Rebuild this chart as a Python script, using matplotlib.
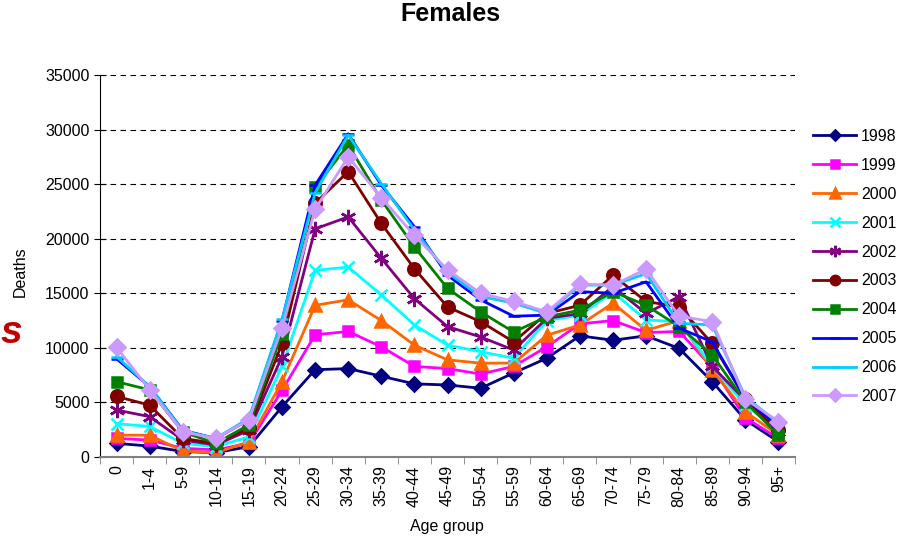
import matplotlib.pyplot as plt
from matplotlib.ticker import MultipleLocator, FixedLocator

plt.rcParams['font.family'] = ['Liberation Sans', 'DejaVu Sans']

# Age groups on the x axis
ages = ["0", "1-4", "5-9", "10-14", "15-19", "20-24", "25-29", "30-34", "35-39",
        "40-44", "45-49", "50-54", "55-59", "60-64", "65-69", "70-74", "75-79",
        "80-84", "85-89", "90-94", "95+"]

# Female deaths per year
d1998 = [1250, 1000, 500, 400, 950, 4600, 8000, 8100, 7400, 6700, 6600, 6300, 7700,
         9050, 11100, 10700, 11100, 9950, 6900, 3400, 1400]
d1999 = [1700, 1550, 800, 650, 1250, 6100, 11200, 11500, 10100, 8300, 8100, 7600, 8300,
         10100, 12200, 12500, 11400, 11500, 8200, 3600, 1700]
d2000 = [2000, 2000, 550, 380, 1400, 6900, 13900, 14400, 12500, 10250, 8900, 8600, 8600,
         11150, 12100, 14100, 11600, 12500, 7950, 4150, 2000]
d2001 = [3050, 2800, 1250, 950, 1850, 8300, 17100, 17400, 14850, 12100, 10250, 9650, 9050,
         12500, 13000, 15100, 12550, 12400, 8300, 4750, 2450]
d2002 = [4300, 3700, 1550, 1100, 2450, 9200, 20900, 22000, 18200, 14500, 11950, 11000, 9800,
         12700, 13150, 15600, 13150, 14700, 8300, 5200, 2300]
d2003 = [5550, 4750, 1700, 1250, 2650, 10400, 23250, 26150, 21400, 17250, 13750, 12400, 10550,
         13150, 13900, 16650, 14250, 13750, 10400, 5350, 2450]
d2004 = [6900, 6150, 2300, 1250, 2950, 11300, 24700, 28600, 23550, 19250, 15450, 13300, 11450,
         12850, 13450, 15150, 13900, 11950, 9350, 5050, 2000]
d2005 = [9000, 6450, 2450, 1700, 3400, 12500, 24900, 29600, 24900, 21100, 16650, 14400, 12900,
         13000, 15150, 15000, 16050, 11800, 10550, 5350, 2800]
d2006 = [9200, 6450, 2400, 1700, 3550, 12600, 24200, 29500, 25050, 20800, 16900, 14700, 14100,
         13150, 15750, 15750, 16800, 12250, 12100, 5500, 3100]
d2007 = [10050, 6150, 2300, 1700, 3400, 11850, 22700, 27500, 23750, 20300, 17150, 15000, 14250,
         13300, 15850, 15750, 17200, 12900, 12400, 5300, 3250]

years = ["1998", "1999", "2000", "2001", "2002", "2003", "2004", "2005", "2006", "2007"]
series = [d1998, d1999, d2000, d2001, d2002, d2003, d2004, d2005, d2006, d2007]

colors = ["#000080", "#FF00FF", "#FF6600", "#00FFFF", "#800080",
          "#800000", "#008000", "#0000FF", "#00CCFF", "#CC99FF"]
markers = ["D", "s", "^", "x", (6, 2, 0), "o", "s", "_", "_", "D"]
msizes = [7, 7, 9, 9, 11, 9, 7, 9, 9, 8]

fig = plt.figure(figsize=(9.01, 5.40), dpi=100)
ax = fig.add_axes([100 / 901, 1 - 457 / 540, 695 / 901, 382 / 540])

x = list(range(len(ages)))
for yr, vals, c, m, ms in zip(years, series, colors, markers, msizes):
    ax.plot(x, vals, color=c, lw=2, marker=m, markersize=ms,
            markerfacecolor=c, markeredgecolor=c, markeredgewidth=1.8, label=yr)

ax.set_xlim(-0.5, len(ages) - 0.5)
ax.set_ylim(0, 35000)
ax.yaxis.set_major_locator(MultipleLocator(5000))
ax.grid(axis="y", color="black", linestyle=(0, (5, 4)), lw=0.8)
ax.set_axisbelow(True)

ax.set_xticks(x)
ax.set_xticklabels(ages, rotation=90, fontsize=11.5)
ax.xaxis.set_minor_locator(FixedLocator([i - 0.5 for i in range(len(ages) + 1)]))
ax.tick_params(axis="x", which="major", length=0, pad=6)
ax.tick_params(axis="x", which="minor", length=5, color="#808080", direction="out")
ax.tick_params(axis="y", labelsize=11.5, direction="inout", length=8)

for s in ["top", "right"]:
    ax.spines[s].set_visible(False)
ax.spines["bottom"].set_color("#808080")
ax.spines["bottom"].set_linewidth(1.5)

fig.text(0.5, 1 - 21 / 540, "Females", ha="center", va="baseline",
         fontsize=18, weight="bold", family=["Liberation Sans Narrow", "Liberation Sans"])
fig.text(20 / 901, 1 - 272 / 540, "Deaths", rotation=90, ha="center", va="center", fontsize=11.5)
fig.text(447 / 901, 1 - 527 / 540, "Age group", ha="center", va="center", fontsize=11.5)
fig.text(1 / 901, 1 - 333 / 540, "s", ha="left", va="center", fontsize=28,
         weight="bold", style="italic", color="#C00000")

fig.legend(loc="upper left", bbox_to_anchor=(813 / 901, 1 - 129 / 540), frameon=False,
           fontsize=11.5, handlelength=2.7, handletextpad=0.3, labelspacing=0.87,
           markerscale=0.75, borderaxespad=0, borderpad=0)

fig.savefig("out.png", dpi=100)
